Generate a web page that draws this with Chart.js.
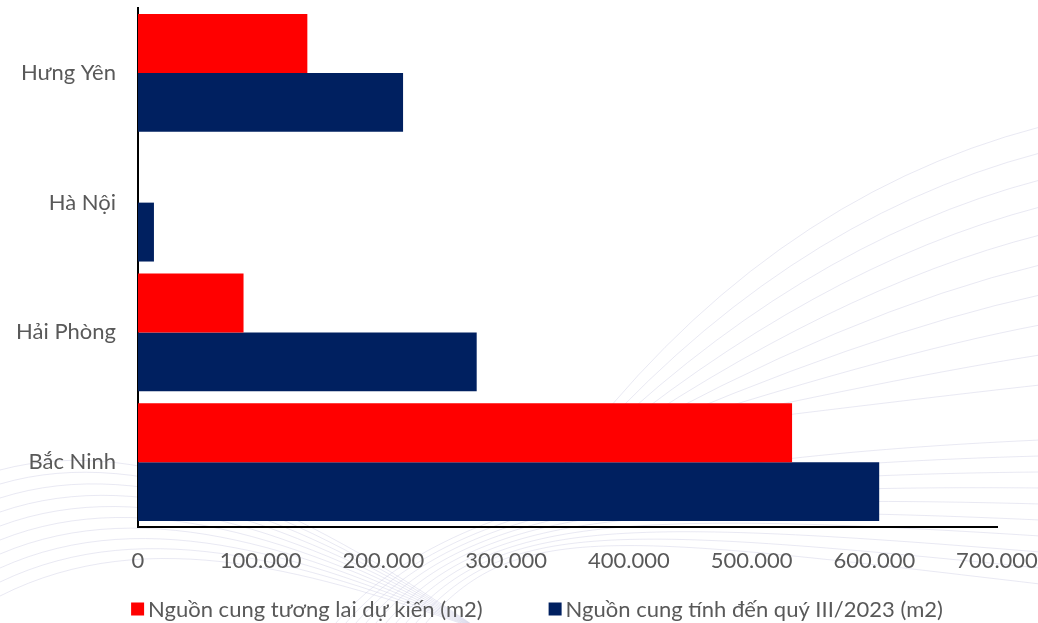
<!DOCTYPE html>
<html>
<head>
<meta charset="utf-8">
<script src="https://cdn.jsdelivr.net/npm/chart.js@4/dist/chart.umd.min.js"></script>
<style>
  html, body { margin: 0; padding: 0; background: #ffffff; }
  #wrap { width: 1038px; height: 623px; position: relative; }
</style>
</head>
<body>
<div id="wrap"><canvas id="c" width="1038" height="623"></canvas></div>
<script>
// Provinces, listed top to bottom
const categories = ['Hưng Yên', 'Hà Nội', 'Hải Phòng', 'Bắc Ninh'];
// Future supply (m2)
const futureSupply = [138000, 0, 86000, 533000];
// Supply up to Q3/2023 (m2)
const currentSupply = [216000, 13000, 276000, 604000];
const seriesNames = ['Nguồn cung tương lai dự kiến (m2)', 'Nguồn cung tính đến quý III/2023 (m2)'];
const xMax = 700000;
const xStep = 100000;

const FONT = 'Lato, "Open Sans", sans-serif';
const TEXT_COLOR = '#595959';

// Faint decorative sweeping lines behind the chart
const backdrop = {
  id: 'backdrop',
  beforeDraw(chart) {
    const ctx = chart.ctx;
    ctx.save();
    ctx.fillStyle = '#ffffff';
    ctx.fillRect(0, 0, chart.width, chart.height);
    ctx.lineWidth = 1;
    ctx.strokeStyle = 'rgba(200, 200, 225, 0.4)';
    const ends = [127, 153, 180, 207, 235, 265, 295, 325, 355, 385];
    ends.forEach((ye, i) => {
      ctx.beginPath();
      ctx.moveTo(560 + i * 8, 470 - i * 4);
      ctx.quadraticCurveTo(760 + i * 18, 200 + i * 22, 1040, ye);
      ctx.stroke();
    });
    for (let i = 0; i < 10; i++) {
      ctx.beginPath();
      ctx.moveTo(0, 470 + i * 14);
      ctx.bezierCurveTo(150, 430 + i * 10, 320, 520 + i * 6, 480, 630);
      ctx.stroke();
      ctx.beginPath();
      ctx.moveTo(330 + i * 10, 630);
      ctx.bezierCurveTo(420 + i * 10, 520, 600, 460 + i * 8, 1040, 440 + i * 16);
      ctx.stroke();
    }
    ctx.restore();
  }
};

// Legend row drawn under the axis: square swatch followed by the series name
const legendRow = {
  id: 'legendRow',
  afterDraw(chart) {
    const ctx = chart.ctx;
    const ds = chart.data.datasets;
    const size = 22, box = 13, gapBox = 4, gapItem = 66, y = 609, centre = 537;
    ctx.save();
    ctx.font = size + 'px ' + FONT;
    ctx.textBaseline = 'middle';
    const widths = ds.map(d => box + gapBox + ctx.measureText(d.label).width);
    const total = widths.reduce((a, b) => a + b, 0) + gapItem * (ds.length - 1);
    let x = centre - total / 2;
    ds.forEach((d, i) => {
      ctx.fillStyle = d.backgroundColor;
      ctx.fillRect(x, y - box / 2, box, box);
      ctx.fillStyle = TEXT_COLOR;
      ctx.fillText(d.label, x + box + gapBox, y + 1);
      x += widths[i] + gapItem;
    });
    ctx.restore();
  }
};

new Chart(document.getElementById('c'), {
  type: 'bar',
  data: {
    labels: categories,
    datasets: [
      { label: seriesNames[0], data: futureSupply, backgroundColor: '#FF0000', borderWidth: 0 },
      { label: seriesNames[1], data: currentSupply, backgroundColor: '#002060', borderWidth: 0 }
    ]
  },
  options: {
    indexAxis: 'y',
    responsive: false,
    animation: false,
    devicePixelRatio: 1,
    layout: { padding: { top: 8, right: 41, left: 0, bottom: 0 } },
    datasets: { bar: { categoryPercentage: 0.908, barPercentage: 1.0 } },
    scales: {
      x: {
        min: 0, max: xMax,
        grid: { display: false, drawTicks: false },
        border: { display: true, color: '#000000', width: 2 },
        ticks: {
          stepSize: xStep,
          color: TEXT_COLOR,
          padding: 21,
          maxRotation: 0,
          font: { family: FONT, size: 22 },
          callback: v => v.toLocaleString('de-DE')
        },
        afterFit(s) { s.height = 96; s.paddingLeft = 0; s.paddingRight = 0; }
      },
      y: {
        grid: { display: false, drawTicks: false },
        border: { display: true, color: '#000000', width: 2 },
        ticks: { color: TEXT_COLOR, padding: 22, font: { family: FONT, size: 22 } },
        afterFit(s) { s.width = 138; s.paddingTop = 0; s.paddingBottom = 0; }
      }
    },
    plugins: {
      legend: { display: false },
      tooltip: { enabled: false }
    }
  },
  plugins: [backdrop, legendRow]
});
</script>
</body>
</html>
